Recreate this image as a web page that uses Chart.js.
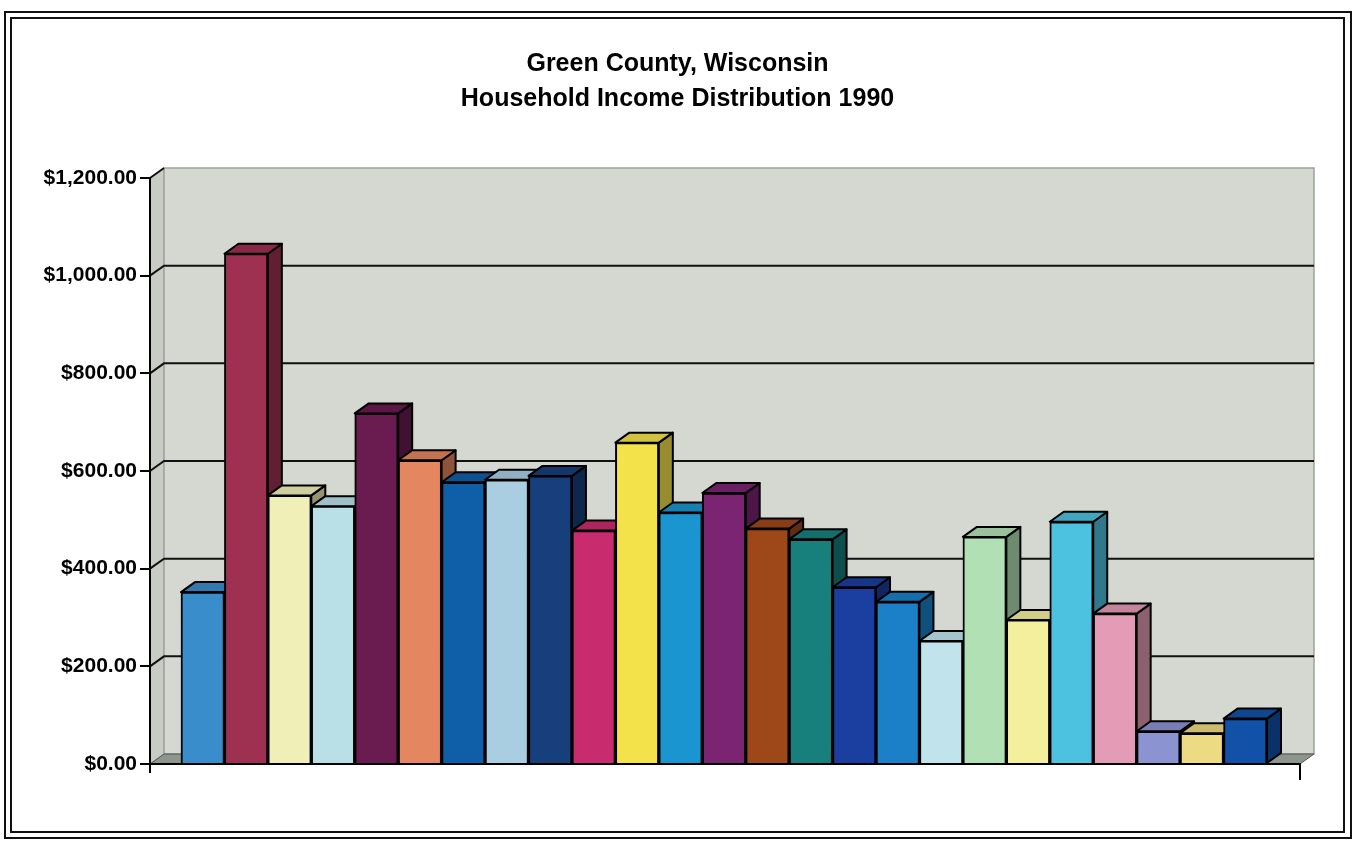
<!DOCTYPE html>
<html>
<head>
<meta charset="utf-8">
<script src="https://cdn.jsdelivr.net/npm/chart.js@4/dist/chart.umd.min.js"></script>
<style>
  html, body { margin: 0; padding: 0; background: #ffffff; }
  #wrap { width: 1355px; height: 843px; }
</style>
</head>
<body>
<div id="wrap"><canvas id="c" width="1355" height="843"></canvas></div>
<script>
// ---- Data ----
const titleLines = ['Green County, Wisconsin', 'Household Income Distribution 1990'];
// The 25 categories carry no visible labels in the reference; they are numbered in order.
const categories = [1, 2, 3, 4, 5, 6, 7, 8, 9, 10, 11, 12, 13, 14, 15, 16, 17, 18, 19, 20, 21, 22, 23, 24, 25];
const values = [352, 1045, 550, 528, 718, 622, 577, 582, 590, 478, 658, 515, 555, 482, 460, 362, 332, 252, 465, 295, 496, 308, 67, 63, 93];
const yTickValues = [0, 200, 400, 600, 800, 1000, 1200];

// ---- Styles ----
const barColors = [
  '#3a8dcb', '#9e3152', '#f1efb8', '#b9dfe7', '#6a1b4f', '#e4865f', '#0f5ea8', '#a9cee2', '#173f7b',
  '#c82b6e', '#f3e24a', '#1b95cf', '#7a2472', '#9e4719', '#17807d', '#1b3fa0', '#1b80c8', '#c1e4ec',
  '#b1e0b5', '#f4ef9c', '#4dc1e0', '#e49bb5', '#8c93d1', '#ecdb82', '#1151a8'
];
const DX = 14, DY = -10;

function shade(hex, f) {
  const n = parseInt(hex.slice(1), 16);
  const r = Math.round(((n >> 16) & 255) * f);
  const g = Math.round(((n >> 8) & 255) * f);
  const b = Math.round((n & 255) * f);
  return 'rgb(' + r + ',' + g + ',' + b + ')';
}
function poly(ctx, pts, fill, stroke, lw) {
  ctx.beginPath();
  ctx.moveTo(pts[0][0], pts[0][1]);
  for (let i = 1; i < pts.length; i++) ctx.lineTo(pts[i][0], pts[i][1]);
  ctx.closePath();
  if (fill) { ctx.fillStyle = fill; ctx.fill(); }
  if (stroke) { ctx.strokeStyle = stroke; ctx.lineWidth = lw || 1; ctx.stroke(); }
}

const scenePlugin = {
  id: 'scene3d',
  afterLayout(chart) {
    // centre the title block on the whole canvas
    const t = chart.titleBlock;
    if (t) { t.left = 0; t.right = chart.width; t.width = chart.width; }
  },
  beforeDraw(chart) {
    const { ctx, chartArea: a, scales: { y } } = chart;
    ctx.save();
    ctx.fillStyle = '#ffffff';
    ctx.fillRect(0, 0, chart.width, chart.height);
    // double frame
    ctx.strokeStyle = '#111';
    ctx.lineWidth = 2;
    ctx.strokeRect(5, 12, 1346, 826);
    ctx.strokeRect(11, 18, 1333, 814);
    // left side wall
    poly(ctx, [[a.left, a.top], [a.left + DX, a.top + DY], [a.left + DX, a.bottom + DY], [a.left, a.bottom]], '#c8ccc5', '#9aa39a', 1);
    // back wall
    poly(ctx, [[a.left + DX, a.top + DY], [a.right + DX, a.top + DY], [a.right + DX, a.bottom + DY], [a.left + DX, a.bottom + DY]], '#d5d8d1', '#9aa39a', 1.5);
    // gridlines on walls
    ctx.strokeStyle = '#111';
    ctx.lineWidth = 2;
    y.ticks.forEach(t => {
      const py = y.getPixelForValue(t.value);
      if (t.value === 0) return;
      ctx.beginPath();
      ctx.moveTo(a.left, py);
      ctx.lineTo(a.left + DX, py + DY);
      if (t.value !== y.max) ctx.lineTo(a.right + DX, py + DY);
      ctx.stroke();
    });
    // floor
    poly(ctx, [[a.left, a.bottom], [a.left + DX, a.bottom + DY], [a.right + DX, a.bottom + DY], [a.right, a.bottom]], '#8d968c', '#555', 1);
    ctx.restore();
  },
  beforeDatasetsDraw(chart) {
    const { ctx } = chart;
    const meta = chart.getDatasetMeta(0);
    ctx.save();
    ctx.lineJoin = 'round';
    meta.data.forEach((bar, i) => {
      const p = bar.getProps(['x', 'y', 'base', 'width'], true);
      const x0 = p.x - p.width / 2, x1 = p.x + p.width / 2;
      const col = barColors[i % barColors.length];
      poly(ctx, [[x1, p.y], [x1 + DX, p.y + DY], [x1 + DX, p.base + DY], [x1, p.base]], shade(col, 0.62), '#000', 2);
      poly(ctx, [[x0, p.y], [x1, p.y], [x1 + DX, p.y + DY], [x0 + DX, p.y + DY]], shade(col, 0.86), '#000', 2);
    });
    ctx.restore();
  },
  afterDraw(chart) {
    const { ctx, chartArea: a } = chart;
    ctx.save();
    ctx.strokeStyle = '#000';
    ctx.lineWidth = 2;
    ctx.beginPath();
    ctx.moveTo(a.left, a.bottom);
    ctx.lineTo(a.left, a.bottom + 9);
    ctx.moveTo(a.right, a.bottom);
    ctx.lineTo(a.right, a.bottom + 16);
    ctx.stroke();
    ctx.restore();
  }
};

new Chart(document.getElementById('c'), {
  type: 'bar',
  data: {
    datasets: [{
      label: 'Household Income',
      data: categories.map((c, i) => ({ x: c, y: values[i] })),
      backgroundColor: barColors,
      borderColor: '#000',
      borderWidth: 2,
      barPercentage: 1,
      categoryPercentage: 1
    }]
  },
  options: {
    responsive: false,
    animation: false,
    devicePixelRatio: 1,
    layout: { padding: { left: 0, right: 55, top: 0, bottom: 0 } },
    plugins: {
      legend: { display: false },
      tooltip: { enabled: false },
      title: {
        display: true,
        text: titleLines,
        color: '#000',
        font: { family: "'Liberation Sans', Arial, sans-serif", size: 25, weight: 'bold', lineHeight: 1.4 },
        padding: { top: 47, bottom: 61 }
      }
    },
    scales: {
      x: {
        type: 'linear',
        offset: false,
        min: -0.213,
        max: 26.26,
        afterBuildTicks: s => { s.ticks = categories.map(c => ({ value: c })); },
        afterFit: s => { s.height = 79; },
        ticks: { display: false },
        grid: { display: false, offset: false },
        border: { display: true, color: '#000', width: 2 }
      },
      y: {
        min: 0,
        max: 1200,
        afterBuildTicks: s => { s.ticks = yTickValues.map(v => ({ value: v })); },
        afterFit: s => { s.width = 150; },
        ticks: {
          color: '#000',
          padding: 3,
          font: { family: "'Liberation Sans', Arial, sans-serif", size: 21, weight: 'bold' },
          callback: v => '$' + Number(v).toLocaleString('en-US', { minimumFractionDigits: 2, maximumFractionDigits: 2 })
        },
        grid: { display: true, drawOnChartArea: false, drawTicks: true, tickLength: 10, color: '#000', lineWidth: 2 },
        border: { display: true, color: '#000', width: 2 }
      }
    }
  },
  plugins: [scenePlugin]
});
</script>
</body>
</html>
